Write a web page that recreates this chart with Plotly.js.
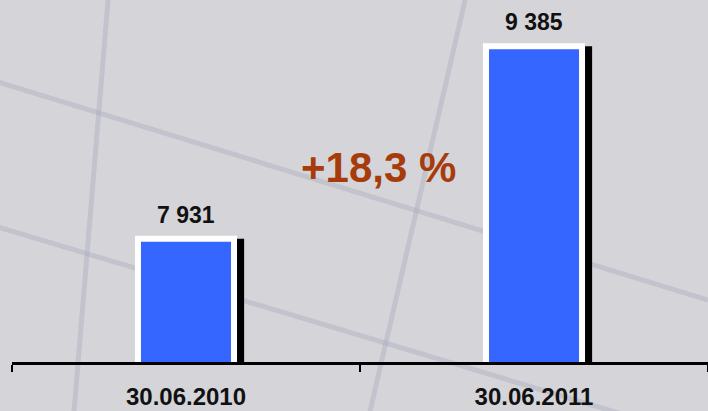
<!DOCTYPE html>
<html>
<head>
<meta charset="utf-8">
<script src="https://cdn.plot.ly/plotly-3.0.1.min.js"></script>
<style>
  html, body { margin: 0; padding: 0; background: #d5d5d9; }
  #chart { width: 708px; height: 411px; }
</style>
</head>
<body>
<div id="chart"></div>
<script>
// ---- data ----
const categories = ['30.06.2010', '30.06.2011'];
const values = [7931, 9385];
const valueLabels = ['7 931', '9 385'];
const growthLabel = '+18,3 %';
const yMin = 7000;

// ---- styling ----
const barWidth = 0.276;
const font = 'Liberation Sans, Arial, sans-serif';

const shadow = {
  type: 'bar', x: categories, y: values,
  width: barWidth, offset: -barWidth / 2 + 0.029,
  marker: { color: '#000000', line: { width: 0 } },
  hoverinfo: 'skip', showlegend: false
};
const bars = {
  type: 'bar', x: categories, y: values,
  width: barWidth, offset: -barWidth / 2,
  marker: { color: '#3566ff', line: { color: '#ffffff', width: 6 } },
  showlegend: false
};

const valueAnnotations = categories.map((c, i) => ({
  x: c, y: values[i], xref: 'x', yref: 'y',
  text: valueLabels[i], showarrow: false,
  yanchor: 'bottom', yshift: 9,
  font: { family: font, size: 23, color: '#111111', weight: 700 }
}));

const growthAnnotation = {
  xref: 'paper', yref: 'paper', x: 0.526, y: 0.537,
  xanchor: 'center', yanchor: 'middle', showarrow: false,
  text: growthLabel,
  font: { family: font, size: 42, color: '#a63c0c', weight: 700 }
};

const deco = 'rgba(165,165,190,0.38)';
const decoLines = [
  [-0.02, 0.7735, 1.0, 0.171],
  [-0.02, 0.373, 1.0, -0.215],
  [0.138, 1.0, 0.089, -0.14],
  [0.651, 1.0, 0.514, -0.14]
].map(p => ({
  type: 'line', xref: 'paper', yref: 'paper', layer: 'below',
  x0: p[0], y0: p[1], x1: p[2], y1: p[3],
  line: { color: deco, width: 5 }
}));

const layout = {
  width: 708, height: 411,
  margin: { l: 12, r: 0, t: 0, b: 49, pad: 0 },
  paper_bgcolor: '#d5d5d9',
  plot_bgcolor: 'rgba(0,0,0,0)',
  barmode: 'overlay',
  showlegend: false,
  xaxis: {
    type: 'category', range: [-0.5, 1.5],
    showline: true, linecolor: '#000000', linewidth: 2.5,
    ticks: 'outside', tickson: 'boundaries', ticklen: 7, tickwidth: 2, tickcolor: '#000000',
    ticklabelstandoff: 12,
    tickfont: { family: font, size: 24, color: '#111111', weight: 700 },
    showgrid: false, zeroline: false, fixedrange: true
  },
  yaxis: {
    range: [yMin, 9734],
    showticklabels: false, showgrid: false, zeroline: false, showline: false,
    ticks: '', fixedrange: true
  },
  annotations: valueAnnotations.concat([growthAnnotation]),
  shapes: decoLines
};

Plotly.newPlot('chart', [shadow, bars], layout, { displayModeBar: false, staticPlot: true });
</script>
</body>
</html>
